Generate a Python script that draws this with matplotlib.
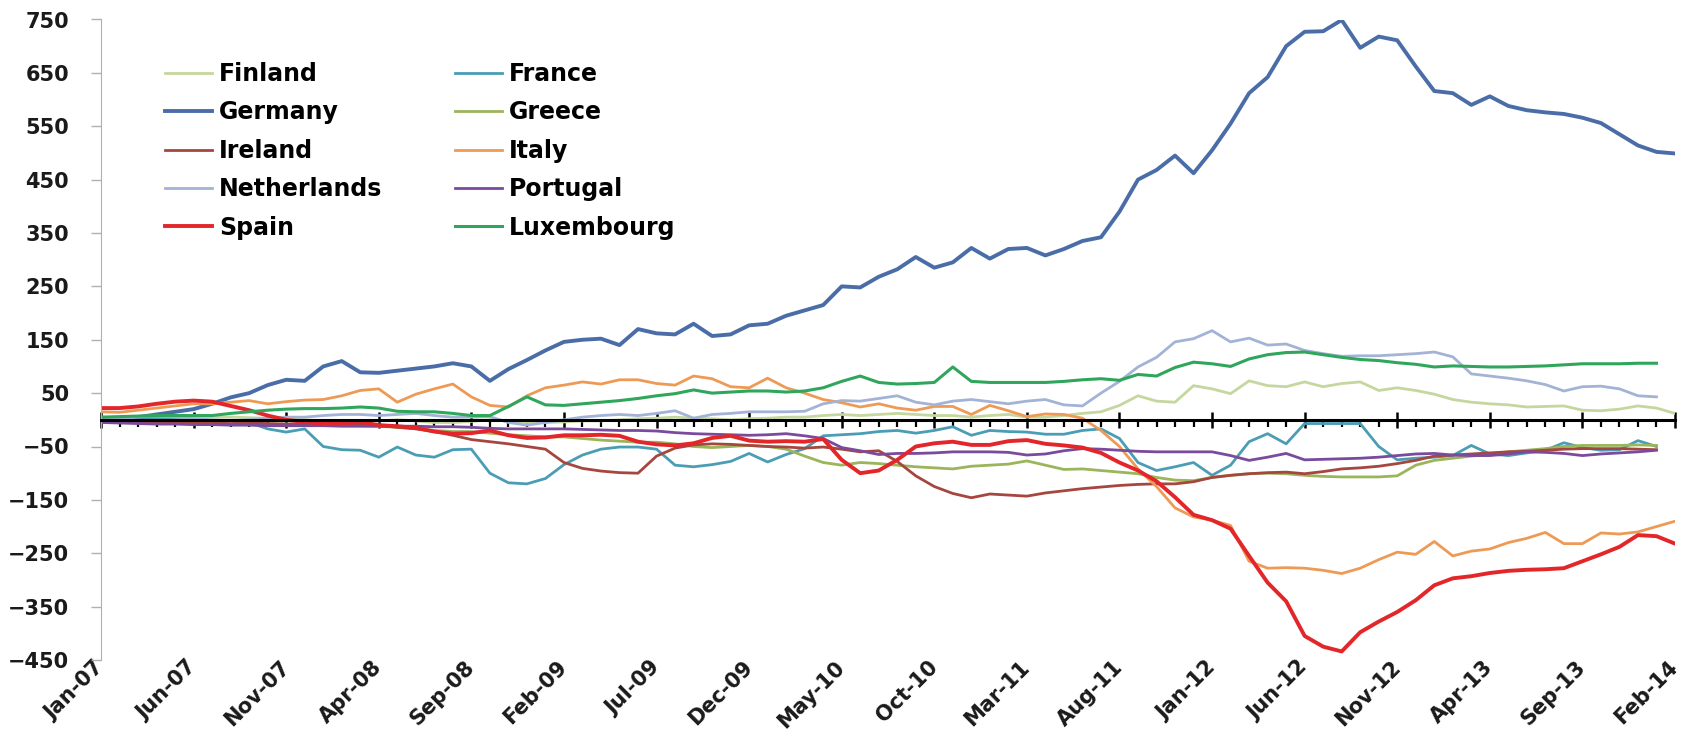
import numpy as np
import pandas as pd
import matplotlib
matplotlib.use("Agg")
import matplotlib.pyplot as plt
from matplotlib.ticker import MultipleLocator

nan = np.nan

# monthly spreads vs. reference, Jan-07 .. Feb-14
months = pd.date_range("2007-01-01", periods=86, freq="MS")
tick_labels = [m.strftime("%b-%y") for m in months[::5]]

finland = [2, 3, 4, 5, 5, 6, 5, 5, 4, 3, 2, 0, -2, -3, -2, -2, 0, -2, -5, -5,
           -3, 0, -2, -5, -5, -4, -2, -2, 0, 2, 3, 5, 3, 2, 0, 2, 3, 5, 5, 8,
           10, 8, 10, 12, 10, 8, 8, 5, 8, 10, 5, 5, 8, 12, 15, 27, 45, 35, 33, 64,
           58, 49, 73, 64, 62, 71, 62, 68, 71, 55, 60, 55, 48, 38, 33, 30, 28, 24, 25, 26,
           18, 17, 20, 26, 22, 12]
france = [0, 1, 2, 2, 1, 0, -1, -2, -5, -17, -23, -17, -50, -56, -57, -70, -51, -66, -70, -56,
          -55, -100, -118, -120, -110, -84, -66, -55, -51, -51, -55, -85, -88, -84, -78, -63, -79, -65, -54, -30,
          -28, -26, -22, -20, -25, -20, -13, -29, -20, -22, -23, -27, -27, -20, -17, -35, -80, -95, -88, -80,
          -104, -85, -41, -26, -45, -7, -7, -7, -7, -50, -75, -72, -70, -67, -48, -64, -67, -62, -57, -43,
          -52, -57, -56, -39, -50, nan]
germany = [0, 2, 5, 10, 15, 20, 30, 42, 50, 65, 75, 73, 100, 110, 89, 88, 92, 96, 100, 106,
           100, 73, 95, 112, 130, 146, 150, 152, 140, 170, 162, 160, 180, 157, 160, 177, 180, 195, 205, 215,
           250, 248, 268, 282, 305, 285, 295, 322, 302, 320, 322, 308, 320, 335, 342, 390, 450, 468, 495, 462,
           505, 555, 612, 642, 700, 727, 728, 749, 697, 718, 711, 662, 616, 612, 590, 606, 588, 580, 576, 573,
           566, 556, 535, 514, 502, 499]
greece = [0, -2, -3, -4, -5, -5, -6, -6, -7, -8, -8, -9, -10, -10, -11, -12, -14, -16, -20, -22,
          -22, -25, -28, -30, -32, -32, -35, -38, -40, -42, -42, -45, -50, -52, -50, -48, -50, -55, -68, -80,
          -85, -80, -82, -85, -88, -90, -92, -87, -85, -83, -77, -85, -93, -92, -95, -98, -101, -108, -113, -114,
          -108, -104, -101, -100, -101, -104, -106, -107, -107, -107, -105, -85, -76, -72, -68, -64, -60, -57, -54, -50,
          -48, -48, -48, -47, -48, nan]
ireland = [-2, -3, -3, -4, -4, -5, -5, -6, -6, -7, -8, -8, -9, -10, -10, -11, -14, -17, -22, -29,
           -37, -41, -45, -50, -55, -80, -91, -96, -99, -100, -68, -53, -47, -45, -46, -48, -50, -51, -53, -51,
           -55, -60, -58, -78, -105, -125, -138, -146, -139, -141, -143, -137, -133, -129, -126, -123, -121, -120, -120, -116,
           -108, -104, -101, -99, -98, -101, -97, -92, -90, -87, -82, -76, -68, -66, -64, -62, -60, -59, -57, -55,
           -54, -54, -54, -55, -56, nan]
italy = [15, 14, 18, 22, 26, 30, 30, 33, 36, 30, 34, 37, 38, 45, 55, 58, 33, 48, 58, 67,
         43, 27, 24, 45, 60, 65, 71, 67, 75, 75, 68, 65, 82, 77, 62, 60, 78, 60, 50, 38,
         32, 24, 30, 22, 18, 25, 25, 10, 27, 17, 6, 11, 10, 3, -20, -50, -92, -125, -165, -182,
         -188, -198, -265, -278, -277, -278, -282, -288, -278, -262, -248, -252, -228, -255, -246, -242, -230, -222, -211, -232,
         -232, -212, -214, -210, -200, -190]
netherlands = [0, 2, 5, 8, 5, 2, 0, -2, 0, 3, 5, 5, 8, 10, 10, 8, 10, 12, 8, 5,
               5, 6, -5, -10, -5, 0, 5, 8, 10, 8, 12, 17, 3, 10, 12, 15, 15, 15, 16, 30,
               36, 35, 40, 45, 33, 28, 35, 38, 34, 30, 35, 38, 28, 26, 50, 72, 99, 117, 146, 152,
               167, 146, 153, 140, 142, 130, 124, 119, 120, 120, 122, 124, 127, 118, 86, 82, 78, 73, 66, 54,
               62, 63, 58, 45, 43, nan]
portugal = [-5, -6, -7, -8, -8, -9, -9, -10, -10, -11, -11, -11, -11, -12, -12, -12, -12, -12, -13, -13,
            -14, -16, -17, -17, -17, -17, -18, -19, -20, -20, -21, -24, -26, -27, -28, -29, -28, -26, -30, -35,
            -52, -58, -65, -63, -63, -62, -60, -60, -60, -61, -66, -64, -58, -54, -55, -57, -59, -60, -60, -60,
            -60, -67, -76, -70, -63, -75, -74, -73, -72, -70, -67, -64, -63, -66, -67, -67, -64, -60, -61, -63,
            -67, -64, -62, -60, -57, nan]
spain = [22, 22, 25, 30, 34, 36, 34, 26, 18, 8, 0, -4, -7, -6, -4, -10, -12, -15, -22, -26,
         -25, -20, -29, -34, -33, -29, -29, -28, -30, -41, -46, -48, -44, -34, -30, -39, -41, -40, -41, -36,
         -75, -100, -95, -75, -50, -44, -41, -47, -47, -40, -38, -45, -48, -52, -62, -80, -95, -115, -145, -178,
         -188, -204, -255, -305, -340, -405, -425, -434, -398, -378, -360, -338, -310, -297, -293, -287, -283, -281, -280, -278,
         -265, -252, -238, -216, -218, -232]
luxembourg = [5, 6, 7, 8, 8, 8, 8, 12, 15, 18, 20, 21, 21, 22, 24, 22, 16, 15, 15, 12,
              8, 8, 25, 43, 28, 27, 30, 33, 36, 40, 45, 49, 56, 50, 52, 54, 54, 52, 54, 60,
              72, 82, 70, 67, 68, 70, 99, 72, 70, 70, 70, 70, 72, 75, 77, 74, 85, 82, 98, 108,
              105, 100, 114, 122, 126, 127, 122, 117, 113, 111, 107, 104, 99, 101, 100, 99, 99, 100, 101, 103,
              105, 105, 105, 106, 106, nan]

series = [
    ("Finland", finland, "#C4D79E", 2.0),
    ("France", france, "#4A9DB5", 2.0),
    ("Germany", germany, "#4A6DA8", 2.8),
    ("Greece", greece, "#9BB55A", 2.0),
    ("Ireland", ireland, "#A5463F", 2.0),
    ("Italy", italy, "#EE9A55", 2.0),
    ("Netherlands", netherlands, "#A3B3D6", 2.0),
    ("Portugal", portugal, "#7A4A9C", 2.0),
    ("Spain", spain, "#E3262A", 2.8),
    ("Luxembourg", luxembourg, "#2FA65C", 2.2),
]

plt.rcParams["font.family"] = ["DejaVu Sans"]
plt.rcParams["font.weight"] = "bold"

fig = plt.figure(figsize=(16.96, 7.40), dpi=100)
ax = fig.add_axes([101 / 1696, 80 / 740, 1574 / 1696, 640.5 / 740])

x = np.arange(len(months))
lines = {}
for name, vals, col, lw in series:
    lines[name], = ax.plot(x, vals, color=col, lw=lw, label=name,
                           solid_joinstyle="round")

ax.set_xlim(0, len(months) - 1)
ax.set_ylim(-450, 750)
ax.set_yticks(np.arange(-450, 751, 100))
ax.tick_params(axis="y", direction="out", length=7, width=1, color="#B0B0B0",
               labelsize=15, pad=16, labelcolor="#1A1A1A")
ax.spines["left"].set_color("#B0B0B0")
ax.spines["right"].set_visible(False)
ax.spines["top"].set_visible(False)

# x axis crosses at zero, monthly minor ticks
ax.spines["bottom"].set_position(("data", 0))
ax.spines["bottom"].set_linewidth(2.2)
ax.spines["bottom"].set_color("black")
ax.set_xticks(x[::5])
ax.xaxis.set_minor_locator(MultipleLocator(1))
ax.tick_params(axis="x", which="major", direction="inout", length=11, width=1.8,
               labelbottom=False)
ax.tick_params(axis="x", which="minor", direction="out", length=5, width=1.6)

sec = ax.secondary_xaxis("bottom")
sec.set_xticks(x[::5], tick_labels)
sec.spines["bottom"].set_visible(False)
sec.tick_params(axis="x", length=0, pad=3, labelsize=15, labelcolor="#1A1A1A")
for t in sec.get_xticklabels():
    t.set_rotation(45)
    t.set_ha("right")
    t.set_va("center")
    t.set_rotation_mode("anchor")

order = ["Finland", "Germany", "Ireland", "Netherlands", "Spain",
         "France", "Greece", "Italy", "Portugal", "Luxembourg"]
ax.legend([lines[n] for n in order], order, ncol=2, loc="upper left",
          bbox_to_anchor=(165 / 1696, 1 - 62 / 740), bbox_transform=fig.transFigure,
          frameon=False, prop={"size": 17, "weight": "bold"}, handlelength=2.0,
          handletextpad=0.3, columnspacing=3.05, labelspacing=0.61,
          borderpad=0, borderaxespad=0)

fig.savefig("out.png", dpi=100)
